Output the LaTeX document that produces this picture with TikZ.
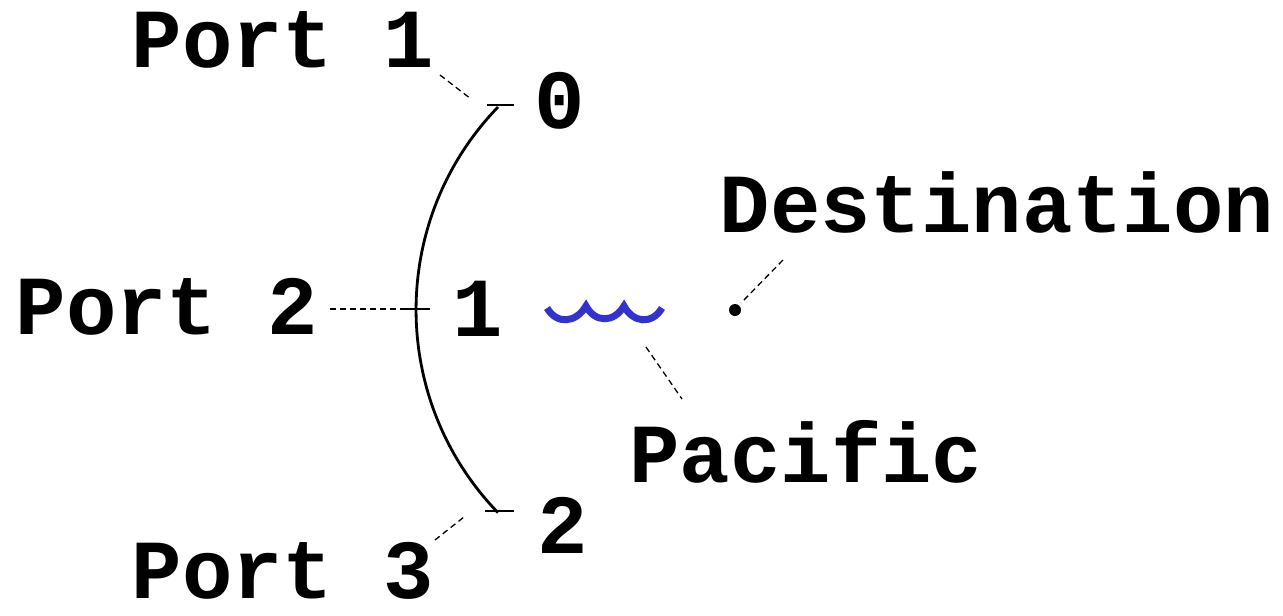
\documentclass[tikz,border=0pt]{standalone}
\usepackage{fontspec}
\setmonofont{Liberation Mono}
\definecolor{wavecol}{HTML}{3333CC}
\begin{document}
\begin{tikzpicture}[x=1pt,y=-1pt,
  lbl/.style={font=\fontsize{84}{84}\selectfont\ttfamily\bfseries, inner sep=0pt, anchor=base},
  leader/.style={line width=1.3pt, dash pattern=on 6pt off 4pt},
  tickline/.style={line width=2.6pt},
  arcline/.style={line width=2.8pt}]
\useasboundingbox (0,0) rectangle (1283,616);
% labels
\node[lbl] (p1) at (283,67) {Port 1};
\node[lbl] (p2) at (167,334) {Port 2};
\node[lbl] (p3) at (283,598) {Port 3};
\node[lbl] (n0) at (560,128) {0};
\node[lbl] (n1) at (478,336) {1};
\node[lbl] (n2) at (563,553) {2};
\node[lbl] (dest) at (997,232) {Destination};
\node[lbl] (pac) at (806,482) {Pacific};
% arc and ticks
\coordinate (a0) at (498,107);
\coordinate (a2) at (498,510);
\draw[arcline] (a0) arc[start angle=224, end angle=136, radius=292];
\coordinate (t0l) at (487,105); \coordinate (t0r) at (514,105);
\coordinate (t1l) at (402,309); \coordinate (t1r) at (430,309);
\coordinate (t2l) at (485,511); \coordinate (t2r) at (514,511);
\draw[tickline] (t0l) -- (t0r);
\draw[tickline] (t1l) -- (t1r);
\draw[tickline] (t2l) -- (t2r);
% leaders
\coordinate (l1a) at (440,75); \coordinate (l1b) at (471,99);
\draw[leader] (l1a) -- (l1b);
\coordinate (l2a) at (330,309);
\draw[leader] (l2a) -- (t1l);
\coordinate (l3a) at (435,540); \coordinate (l3b) at (464,517);
\draw[leader] (l3a) -- (l3b);
\coordinate (dot) at (735,310);
\coordinate (lda) at (783,260);
\draw[leader] (lda) -- (741,303);
\fill (dot) circle[radius=6];
\coordinate (lpa) at (646,347); \coordinate (lpb) at (682,399);
\draw[leader] (lpa) -- (lpb);
% wave
\coordinate (w0) at (547,308);
\coordinate (w1) at (586,306);
\coordinate (w2) at (624,306);
\coordinate (w3) at (662,308);
\draw[wavecol, line width=7pt, line join=miter]
  (w0) .. controls (557,325) and (576,323) .. (w1)
       .. controls (595,323) and (614,323) .. (w2)
       .. controls (633,323) and (652,325) .. (w3);
\end{tikzpicture}
\end{document}
